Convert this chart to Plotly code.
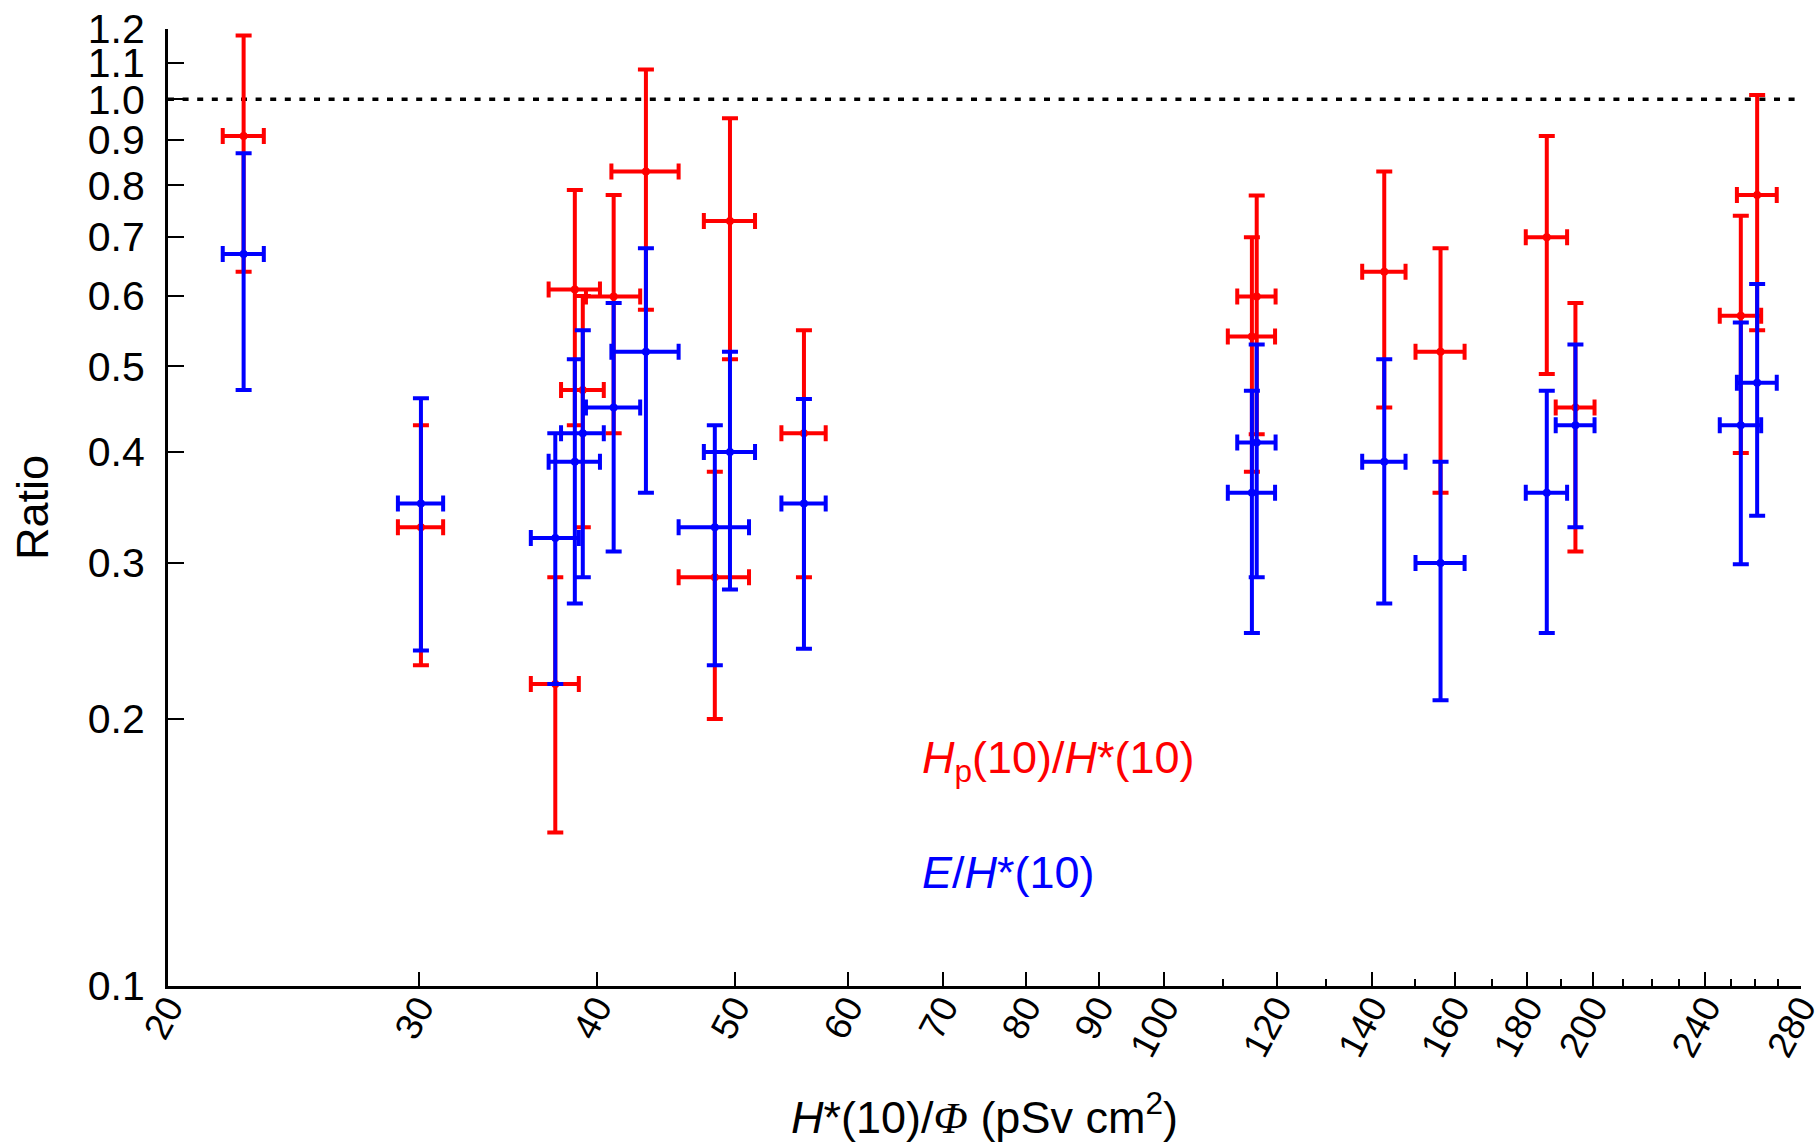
import plotly.graph_objects as go

# ---- data ----
x_vals = [22.6, 30.1, 37.4, 38.6, 39.1, 41.1, 43.3, 48.4, 49.6, 55.9,
          115.3, 116.2, 142.8, 156.4, 185.7, 194.5, 254.1, 260.9]
x_err = [0.75, 1.1, 1.45, 1.6, 1.35, 1.8, 2.35, 2.75, 2.05, 2.0,
         4.4, 3.6, 5.0, 6.2, 6.2, 6.1, 8.5, 8.4]

hp_ratio = [0.909, 0.329, 0.219, 0.610, 0.470, 0.599, 0.829, 0.289, 0.729, 0.420,
            0.540, 0.599, 0.639, 0.519, 0.699, 0.449, 0.570, 0.780]
hp_upper = [1.18, 0.429, 0.289, 0.790, 0.600, 0.780, 1.08, 0.380, 0.952, 0.549,
            0.699, 0.779, 0.829, 0.679, 0.909, 0.589, 0.739, 1.011]
hp_lower = [0.639, 0.230, 0.149, 0.429, 0.329, 0.420, 0.579, 0.200, 0.509, 0.289,
            0.380, 0.419, 0.449, 0.360, 0.490, 0.309, 0.399, 0.549]

e_ratio = [0.669, 0.350, 0.320, 0.390, 0.420, 0.449, 0.519, 0.329, 0.400, 0.350,
           0.360, 0.410, 0.390, 0.300, 0.360, 0.429, 0.429, 0.479]
e_upper = [0.869, 0.460, 0.420, 0.509, 0.549, 0.589, 0.679, 0.429, 0.519, 0.459,
           0.469, 0.529, 0.509, 0.390, 0.469, 0.529, 0.560, 0.619]
e_lower = [0.470, 0.239, 0.219, 0.270, 0.289, 0.309, 0.360, 0.230, 0.280, 0.240,
           0.250, 0.289, 0.270, 0.210, 0.250, 0.329, 0.299, 0.339]

x_ticks = [20, 30, 40, 50, 60, 70, 80, 90, 100, 120, 140, 160, 180, 200, 240, 280]
x_minor = [110, 130, 150, 170, 190, 210, 220, 230, 250, 260, 270]
y_ticks = [0.1, 0.2, 0.3, 0.4, 0.5, 0.6, 0.7, 0.8, 0.9, 1.0, 1.1, 1.2]
y_ticktext = ["0.1", "0.2", "0.3", "0.4", "0.5", "0.6", "0.7", "0.8", "0.9", "1.0", "1.1", "1.2"]

FONT = "Liberation Sans, Arial, sans-serif"


def trace(y, up, lo, color, name):
    return go.Scatter(
        x=x_vals, y=y, mode="markers", name=name,
        marker=dict(color=color, size=8),
        error_y=dict(type="data", symmetric=False,
                     array=[u - v for u, v in zip(up, y)],
                     arrayminus=[v - l for v, l in zip(y, lo)],
                     color=color, thickness=4, width=8),
        error_x=dict(type="data", array=x_err, color=color, thickness=4, width=8),
        showlegend=False,
    )


fig = go.Figure()
fig.add_trace(trace(hp_ratio, hp_upper, hp_lower, "#FF0000", "Hp(10)/H*(10)"))
fig.add_trace(trace(e_ratio, e_upper, e_lower, "#0000FF", "E/H*(10)"))

fig.add_shape(type="line", xref="paper", x0=0, x1=1, yref="y", y0=1.0, y1=1.0,
              line=dict(color="black", width=3.5, dash="6px,8.6px"), layer="below")

fig.add_annotation(xref="paper", yref="paper", x=0.4603, y=0.2356,
                   xanchor="left", yanchor="middle", showarrow=False,
                   text="<i>H</i><sub>p</sub>(10)/<i>H</i>*(10)",
                   font=dict(family=FONT, size=45, color="#FF0000"))
fig.add_annotation(xref="paper", yref="paper", x=0.4603, y=0.1185,
                   xanchor="left", yanchor="middle", showarrow=False,
                   text="<i>E</i>/<i>H</i>*(10)",
                   font=dict(family=FONT, size=45, color="#0000FF"))

fig.update_layout(
    width=1817, height=1143,
    margin=dict(l=168, r=16, t=29, b=157, autoexpand=False),
    paper_bgcolor="white", plot_bgcolor="white",
    font=dict(family=FONT, color="black"),
    xaxis=dict(
        type="log", range=[1.30103, 2.44725], automargin=False,
        showline=True, linecolor="black", linewidth=3, mirror=False,
        showgrid=False, zeroline=False,
        tickmode="array", tickvals=x_ticks, ticktext=[str(v) for v in x_ticks],
        ticks="inside", ticklen=14, tickwidth=2, tickcolor="black",
        tickangle=-62, tickfont=dict(size=37, family=FONT),
        ticklabelstandoff=-18, ticklabeloverflow="allow",
        minor=dict(tickmode="array", tickvals=x_minor, ticks="inside",
                   ticklen=7, tickwidth=2, tickcolor="black", showgrid=False),
        title=dict(text="<i>H</i>*(10)/<span style=\"font-family:Liberation Serif\"><i>Φ</i></span> (pSv cm<sup>2</sup>)",
                   font=dict(size=45, family=FONT), standoff=39),
    ),
    yaxis=dict(
        type="log", range=[-1, 0.0791812], automargin=False,
        showline=True, linecolor="black", linewidth=3, mirror=False,
        showgrid=False, zeroline=False,
        tickmode="array", tickvals=y_ticks, ticktext=y_ticktext,
        ticks="inside", ticklen=16, tickwidth=2, tickcolor="black",
        tickfont=dict(size=41, family=FONT),
        ticklabelstandoff=12, ticklabeloverflow="allow",
        title=dict(text="Ratio", font=dict(size=45, family=FONT), standoff=26),
    ),
)

fig.write_html("out.html", config={"displayModeBar": False},
               post_script="document.body.style.margin='0px';")
